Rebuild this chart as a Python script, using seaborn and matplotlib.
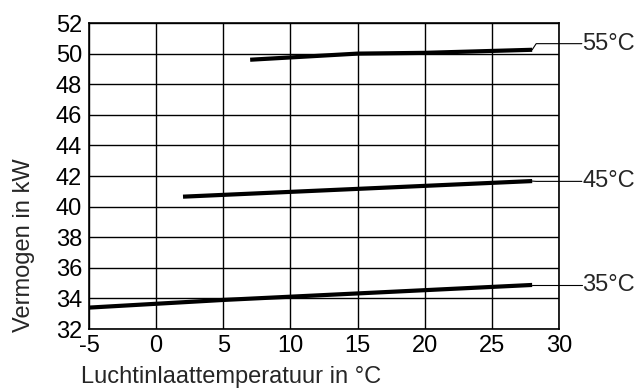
import matplotlib
matplotlib.use("Agg")
import matplotlib.pyplot as plt
import seaborn as sns
import pandas as pd

# Heating capacity vs. air inlet temperature for three flow temperatures
temp_55 = [7, 15, 20, 28]
kw_55 = [49.6, 50.0, 50.05, 50.25]

temp_45 = [2, 28]
kw_45 = [40.65, 41.67]

temp_35 = [-5, 5, 28]
kw_35 = [33.4, 33.9, 34.88]

series_labels = ["55°C", "45°C", "35°C"]
label_levels = [50.65, 41.65, 34.88]

x_ticks = [-5, 0, 5, 10, 15, 20, 25, 30]
y_ticks = [32, 34, 36, 38, 40, 42, 44, 46, 48, 50, 52]

sns.set_style("white")
plt.rcParams["font.family"] = ["Liberation Sans", "DejaVu Sans"]
plt.rcParams["axes.unicode_minus"] = False

frames = []
for lab, xs, ys in zip(series_labels, [temp_55, temp_45, temp_35], [kw_55, kw_45, kw_35]):
    frames.append(pd.DataFrame({"temp": xs, "kw": ys, "curve": lab}))
df = pd.concat(frames, ignore_index=True)

fig = plt.figure(figsize=(6.38, 3.88), dpi=100)
ax = fig.add_axes([0.1395, 0.152, 0.7367, 0.7887])

for x in x_ticks:
    ax.axvline(x, color="black", lw=1.0, zorder=1)
for y in y_ticks:
    ax.axhline(y, color="black", lw=1.0, zorder=1)

sns.lineplot(data=df, x="temp", y="kw", units="curve", estimator=None,
             color="black", lw=3.0, sort=False, ax=ax, zorder=3,
             solid_capstyle="butt")

ax.set_xlim(-5, 30)
ax.set_ylim(32, 52)
ax.set_xticks(x_ticks)
ax.set_yticks(y_ticks)
ax.tick_params(length=0, labelsize=17, colors="black")
ax.tick_params(axis="y", pad=5)
ax.tick_params(axis="x", pad=4)
for s in ax.spines.values():
    s.set_color("black")
    s.set_linewidth(1.2)

ax.set_xlabel("Luchtinlaattemperatuur in °C", fontsize=17)
ax.set_ylabel("Vermogen in kW", fontsize=17)
ax.xaxis.label.set_va("center")
ax.xaxis.set_label_coords(0.302, -0.157)
ax.yaxis.label.set_va("center")
ax.yaxis.set_label_coords(-0.138, 0.275)

# Leader lines to the curve labels on the right
label_x = 31.7
ends = [(temp_55[-1], kw_55[-1]), (temp_45[-1], kw_45[-1]), (temp_35[-1], kw_35[-1])]
for lab, lvl, (ex, ey) in zip(series_labels, label_levels, ends):
    ax.plot([ex, ex + 0.3, label_x], [ey, lvl, lvl], color="black", lw=0.8,
            clip_on=False, zorder=2)
    ax.text(label_x + 0.02, lvl, lab, fontsize=17, va="center", ha="left",
            clip_on=False)

fig.savefig("out.png", dpi=100)
